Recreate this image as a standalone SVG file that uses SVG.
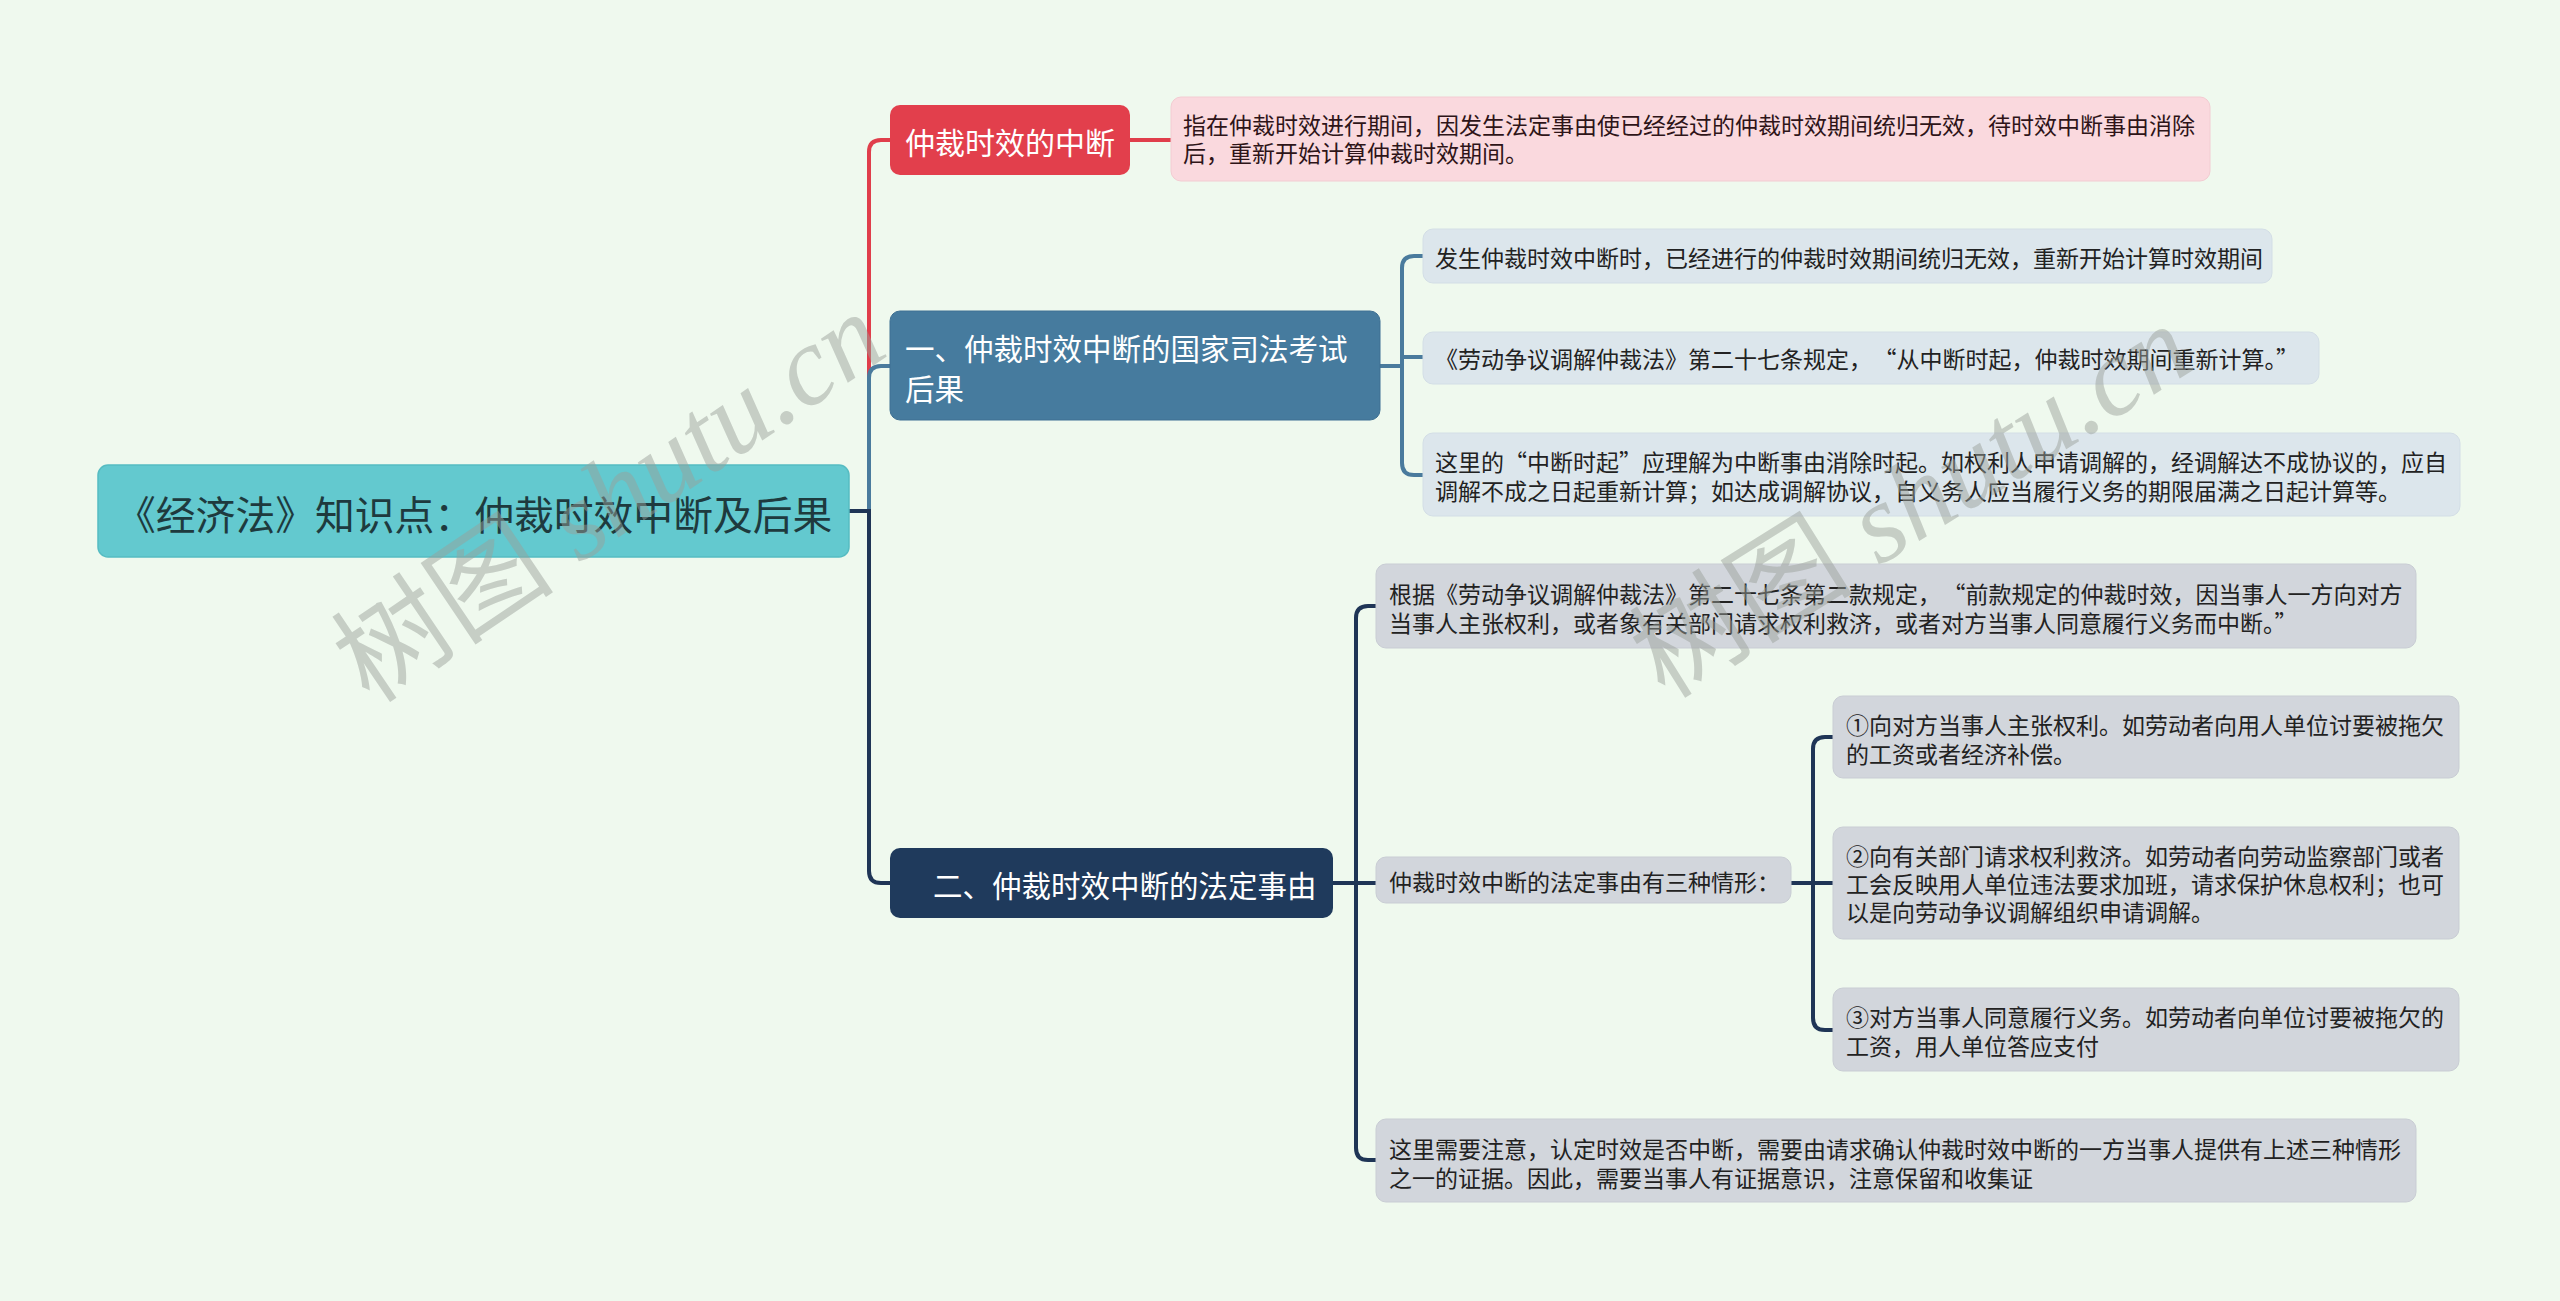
<svg xmlns="http://www.w3.org/2000/svg" width="2560" height="1301" viewBox="0 0 2560 1301">
<style>
text{font-family:"Noto Sans CJK SC","Noto Sans",sans-serif;dominant-baseline:central}
.t1{font-size:29.5px;fill:#ffffff}
.t2{font-size:23px;fill:#222222}
.conn path{fill:none;stroke-width:4;stroke-linecap:round}
.red{stroke:#e03e4b}
.blue{stroke:#4a7b9d}
.navy{stroke:#1f3556}
.lb{fill:#dce6ec;stroke:#d3dee6;stroke-width:1}
.gr{fill:#d2d6dc;stroke:#c9cdd4;stroke-width:1}
.wm{font-family:"Liberation Serif","Noto Sans CJK SC",serif;font-size:112px;fill:#9aa09a;opacity:0.48;dominant-baseline:alphabetic}
</style>
<rect x="0" y="0" width="2560" height="1301" fill="#eff9ee"/>

<g id="connectors" class="conn">
  <path class="red" d="M849,511 H869 V152 Q869,140 881,140 H891"/>
  <path class="blue" d="M849,511 H869 V378 Q869,366 881,366 H891"/>
  <path class="navy" d="M849,511 H869 V871 Q869,883 881,883 H891"/>
  <path class="red" d="M1130,140 H1171"/>
  <path class="blue" d="M1380,366 H1402"/>
  <path class="blue" d="M1402,366 V268 Q1402,256 1414,256 H1423"/>
  <path class="blue" d="M1402,357 H1423"/>
  <path class="blue" d="M1402,366 V463 Q1402,475 1414,475 H1423"/>
  <path class="navy" d="M1333,883 H1356"/>
  <path class="navy" d="M1356,883 V618 Q1356,606 1368,606 H1377"/>
  <path class="navy" d="M1356,883 H1377"/>
  <path class="navy" d="M1356,883 V1148 Q1356,1160 1368,1160 H1377"/>
  <path class="navy" d="M1791,883 H1813"/>
  <path class="navy" d="M1813,883 V749 Q1813,737 1825,737 H1833"/>
  <path class="navy" d="M1813,883 H1833"/>
  <path class="navy" d="M1813,883 V1018 Q1813,1030 1825,1030 H1833"/>
</g>

<g id="root">
  <rect x="98" y="465" width="751" height="92" rx="10" fill="#63c9cf" stroke="#56bcc2" stroke-width="1.5"/>
  <text x="116" y="512" style="font-size:39.8px;fill:#1e3a3e">《经济法》知识点：仲裁时效中断及后果</text>
</g>

<g id="n-red">
  <rect x="890" y="105" width="240" height="70" rx="10" fill="#e23f4c"/>
  <text class="t1" x="905" y="141" style="font-size:30px">仲裁时效的中断</text>
</g>
<g id="n-red-detail">
  <rect x="1171" y="97" width="1039" height="84" rx="10" fill="#fad9de" stroke="#f3ccd2" stroke-width="1"/>
  <text class="t2" x="1183" y="124" style="fill:#2e1418">指在仲裁时效进行期间，因发生法定事由使已经经过的仲裁时效期间统归无效，待时效中断事由消除</text>
  <text class="t2" x="1183" y="152" style="fill:#2e1418">后，重新开始计算仲裁时效期间。</text>
</g>

<g id="n-blue">
  <rect x="890" y="311" width="490" height="109" rx="10" fill="#467b9e" stroke="#3f7193" stroke-width="1"/>
  <text class="t1" x="905" y="347">一、仲裁时效中断的国家司法考试</text>
  <text class="t1" x="905" y="387">后果</text>
</g>
<g id="n-blue-a">
  <rect class="lb" x="1423" y="229" width="849" height="54" rx="10"/>
  <text class="t2" x="1435" y="257">发生仲裁时效中断时，已经进行的仲裁时效期间统归无效，重新开始计算时效期间</text>
</g>
<g id="n-blue-b">
  <rect class="lb" x="1423" y="332" width="896" height="52" rx="10"/>
  <text class="t2" x="1435" y="358">《劳动争议调解仲裁法》第二十七条规定，<tspan dx="13">“从中断时起，仲裁时效期间重新计算。”</tspan></text>
</g>
<g id="n-blue-c">
  <rect class="lb" x="1423" y="433" width="1037" height="83" rx="10"/>
  <text class="t2" x="1435" y="461">这里的“中断时起”应理解为中断事由消除时起。如权利人申请调解的，经调解达不成协议的，应自</text>
  <text class="t2" x="1435" y="490">调解不成之日起重新计算；如达成调解协议，自义务人应当履行义务的期限届满之日起计算等。</text>
</g>

<g id="n-navy">
  <rect x="890" y="848" width="443" height="70" rx="10" fill="#1f3a5c"/>
  <text class="t1" x="933" y="884">二、仲裁时效中断的法定事由</text>
</g>
<g id="n-navy-a">
  <rect class="gr" x="1376" y="564" width="1040" height="84" rx="10"/>
  <text class="t2" x="1389" y="593">根据《劳动争议调解仲裁法》第二十七条第二款规定，<tspan dx="13">“前款规定的仲裁时效，因当事人一方向对方</tspan></text>
  <text class="t2" x="1389" y="622">当事人主张权利，或者象有关部门请求权利救济，或者对方当事人同意履行义务而中断。”</text>
</g>
<g id="n-navy-b">
  <rect class="gr" x="1376" y="857" width="415" height="46" rx="10"/>
  <text class="t2" x="1389" y="881">仲裁时效中断的法定事由有三种情形：</text>
</g>
<g id="n-navy-b1">
  <rect class="gr" x="1833" y="696" width="626" height="82" rx="10"/>
  <text class="t2" x="1846" y="724">①向对方当事人主张权利。如劳动者向用人单位讨要被拖欠</text>
  <text class="t2" x="1846" y="753">的工资或者经济补偿。</text>
</g>
<g id="n-navy-b2">
  <rect class="gr" x="1833" y="827" width="626" height="112" rx="10"/>
  <text class="t2" x="1846" y="855">②向有关部门请求权利救济。如劳动者向劳动监察部门或者</text>
  <text class="t2" x="1846" y="883">工会反映用人单位违法要求加班，请求保护休息权利；也可</text>
  <text class="t2" x="1846" y="911">以是向劳动争议调解组织申请调解。</text>
</g>
<g id="n-navy-b3">
  <rect class="gr" x="1833" y="988" width="626" height="83" rx="10"/>
  <text class="t2" x="1846" y="1016">③对方当事人同意履行义务。如劳动者向单位讨要被拖欠的</text>
  <text class="t2" x="1846" y="1045">工资，用人单位答应支付</text>
</g>
<g id="n-navy-c">
  <rect class="gr" x="1376" y="1119" width="1040" height="83" rx="10"/>
  <text class="t2" x="1389" y="1148">这里需要注意，认定时效是否中断，需要由请求确认仲裁时效中断的一方当事人提供有上述三种情形</text>
  <text class="t2" x="1389" y="1177">之一的证据。因此，需要当事人有证据意识，注意保留和收集证</text>
</g>

<g id="watermark">
  <text class="wm" transform="translate(370,705) rotate(-34)">树图 <tspan font-style="italic">shutu.cn</tspan></text>
  <text class="wm" transform="translate(1665,700) rotate(-32)">树图 <tspan font-style="italic">shutu.cn</tspan></text>
</g>
</svg>
